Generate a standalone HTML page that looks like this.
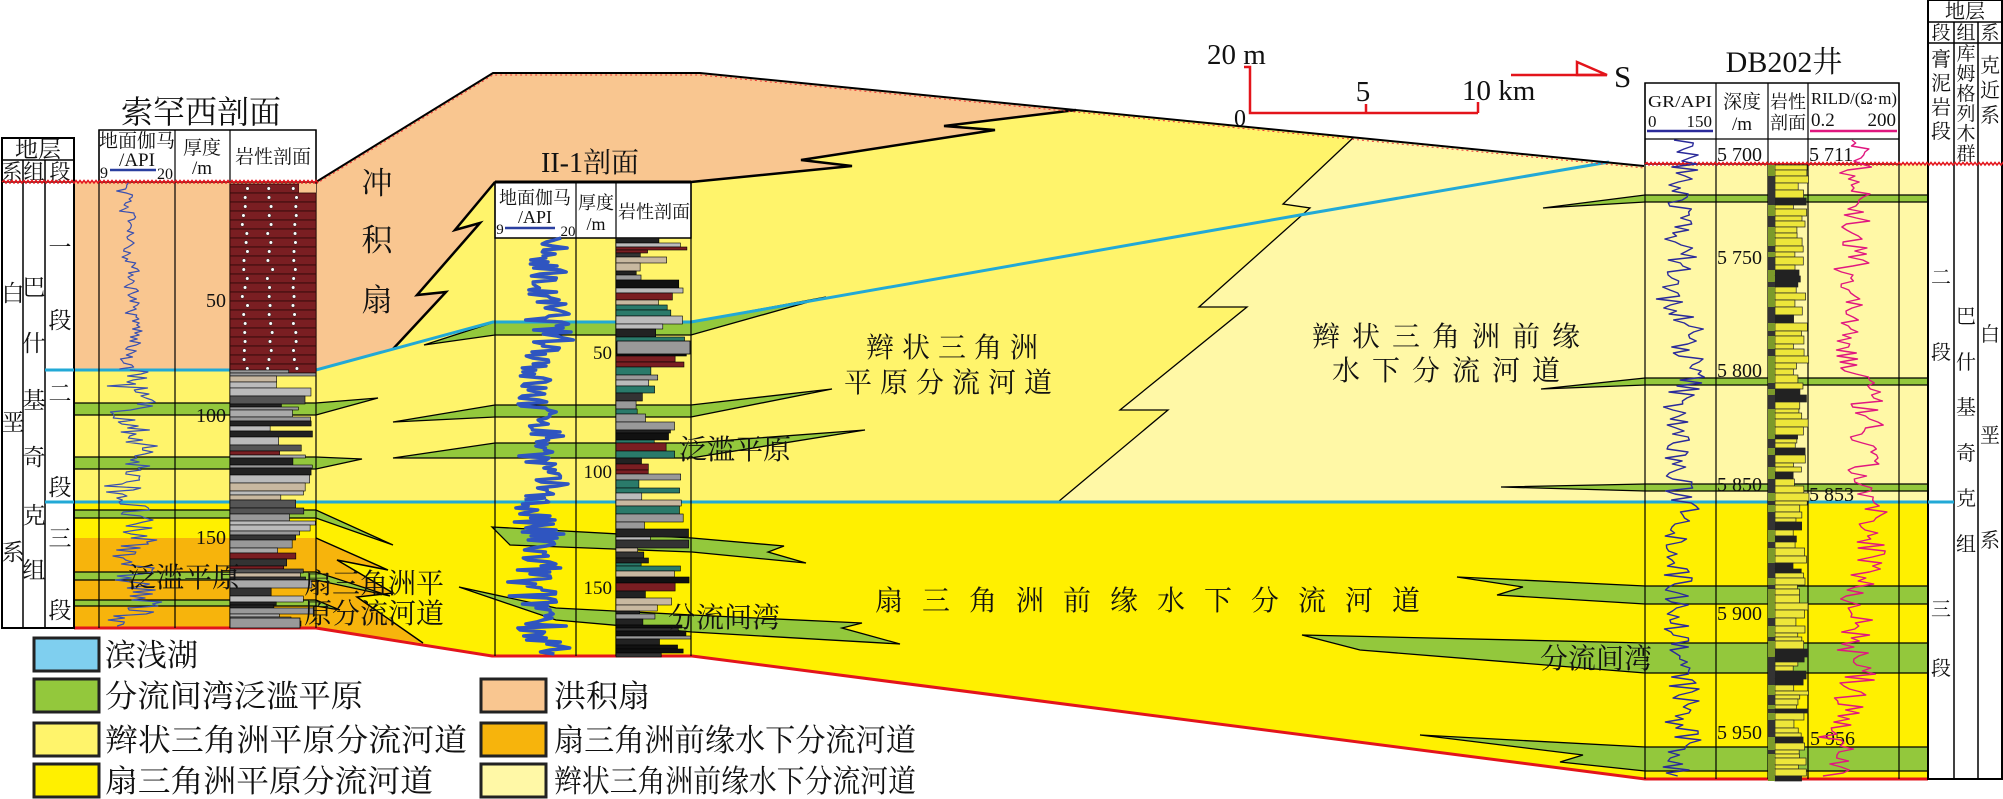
<!DOCTYPE html>
<html><head><meta charset="utf-8"><style>
html,body{margin:0;padding:0;background:#fff;}
svg{display:block;}
text{font-family:"Liberation Serif","Noto Serif CJK SC",serif;fill:#111;}
</style></head><body>
<svg id="s" width="2003" height="799" viewBox="0 0 2003 799" xmlns="http://www.w3.org/2000/svg">
<rect width="2003" height="799" fill="#fff"/>
<polygon points="74,182 316,182 493,73 700,73 1644,166 1928,164 1928,779 1645,779 692,656 492,656 316,628 74,628" fill="#FFF46B"/>
<polygon points="74,182 316,182 493,73 700,73 1076,110 944,126 995,130 801,160 852,166 691,182 495,182 455,230 480,223 417,295 446,292 393,349 316,370 74,370" fill="#F9C690"/>
<polyline points="1076,110 944,126 995,130 801,160 852,166 691,182" fill="none" stroke="#000" stroke-width="2.5"/>
<polyline points="495,182 455,230 480,223 417,295 446,292 393,349" fill="none" stroke="#000" stroke-width="2.5"/>
<polygon points="1058,502 1168,410 1120,410 1247,307 1199,307 1310,208 1283,204 1354,137 1644,166 1928,164 1928,502" fill="#FFF8A6"/>
<polyline points="1058,502 1168,410 1120,410 1247,307 1199,307 1310,208 1283,204 1354,137" fill="none" stroke="#000" stroke-width="1.3"/>
<polygon points="74,502 1928,502 1928,779 1645,779 692,656 492,656 316,628 74,628" fill="#FFF000"/>
<polygon points="74,538 316,538 388,570 337,560 393,593 357,597 423,643 316,628 74,628" fill="#F7B40C"/>
<polyline points="316,538 388,570 337,560 393,593 357,597 423,643" fill="none" stroke="#000" stroke-width="1.5"/>
<g fill="#93C83C" stroke="#000" stroke-width="1.3">
<polygon points="74,403 316,403 378,398 316,415 74,415"/>
<polygon points="74,457 316,457 362,459 316,469 74,469"/>
<polygon points="74,510 316,510 393,545 316,518 74,518"/>
<polygon points="74,572 316,572 390,596 316,580 74,580"/>
<polygon points="74,600 316,600 340,610 316,606 74,606"/>
<polygon points="424,345 495,322 691,322 826,297 691,335 495,335"/>
<polygon points="393,422 495,405 691,405 832,389 691,417 495,417"/>
<polygon points="393,458 495,443 691,443 865,430 691,458 495,458"/>
<polygon points="492,527 692,538 784,546 768,552 806,563 692,552 510,545"/>
<polygon points="459,587 556,608 692,615 862,623 842,628 900,644 692,632 556,620"/>
<polygon points="1543,208 1645,195 1928,195 1928,202 1645,202"/>
<polygon points="1541,389 1645,378 1928,378 1928,385 1645,385"/>
<polygon points="1501,487 1645,484 1928,484 1928,491 1645,491"/>
<polygon points="1457,577 1645,586 1928,586 1928,604 1645,604 1497,595 1523,587"/>
<polygon points="1302,635 1645,643 1928,643 1928,673 1645,673 1360,650"/>
<polygon points="1420,735 1645,747 1928,747 1928,771 1645,771 1560,762 1583,755"/>
</g>
<polyline points="49,370 316,370 493,322 691,322 1300,215 1609,162" fill="none" stroke="#22A9D6" stroke-width="3"/>
<line x1="49" y1="502" x2="1954" y2="502" stroke="#22A9D6" stroke-width="3"/>
<polyline points="316,182 493,73 700,73 1644,166" fill="none" stroke="#000" stroke-width="2"/>
<polyline points="316,184 493,75 700,75 1644,168" fill="none" stroke="#e33" stroke-width="1" stroke-dasharray="2,3"/>
<polyline points="74,628 316,628 492,656 692,656 1645,779 1928,779" fill="none" stroke="#E3141B" stroke-width="3"/>

<rect x="2" y="138" width="72" height="490" fill="#fff" stroke="#000" stroke-width="2"/>
<line x1="2" y1="160" x2="74" y2="160" stroke="#000" stroke-width="1.5"/>
<line x1="2" y1="182" x2="74" y2="182" stroke="#000" stroke-width="1.5"/>
<line x1="23" y1="160" x2="23" y2="628" stroke="#000" stroke-width="1.5"/>
<line x1="45" y1="160" x2="45" y2="628" stroke="#000" stroke-width="1.5"/>
<line x1="45" y1="370" x2="74" y2="370" stroke="#22A9D6" stroke-width="3"/>
<line x1="45" y1="502" x2="74" y2="502" stroke="#22A9D6" stroke-width="3"/>
<g font-size="23" text-anchor="middle">
<text x="38" y="157">地层</text>
<text x="12" y="179" font-size="21">系</text><text x="34" y="179" font-size="21">组</text><text x="60" y="179" font-size="21">段</text>
<text x="13" y="301">白</text><text x="13" y="430">垩</text><text x="13" y="560">系</text>
<text x="34" y="295">巴</text><text x="34" y="351">什</text><text x="34" y="408">基</text><text x="34" y="465">奇</text><text x="34" y="523">克</text><text x="34" y="578">组</text>
<text x="60" y="255">一</text><text x="60" y="328">段</text><text x="60" y="401">二</text><text x="60" y="495">段</text><text x="60" y="546">三</text><text x="60" y="618">段</text>
</g>

<text x="201" y="123" font-size="32" text-anchor="middle">索罕西剖面</text>
<rect x="99" y="130" width="217" height="52" fill="#fff" stroke="#000" stroke-width="1.5"/>
<g stroke="#000" stroke-width="1.2">
<line x1="99" y1="130" x2="99" y2="628"/><line x1="175" y1="130" x2="175" y2="628"/><line x1="230" y1="130" x2="230" y2="628"/><line x1="316" y1="130" x2="316" y2="628"/>
</g>
<g font-size="19" text-anchor="middle">
<text x="137" y="147">地面伽马</text>
<text x="137" y="166">/API</text>
<text x="104" y="178" font-size="16">9</text><text x="165" y="179" font-size="16">20</text>
<text x="202" y="154">厚度</text><text x="202" y="174">/m</text>
<text x="273" y="163">岩性剖面</text>
</g>
<line x1="110" y1="170" x2="156" y2="170" stroke="#2a3fa0" stroke-width="2.5"/>
<g font-size="20" text-anchor="end">
<text x="226" y="307">50</text><text x="226" y="422">100</text><text x="226" y="544">150</text>
</g>

<text x="590" y="172" font-size="28" text-anchor="middle">II-1剖面</text>
<rect x="495" y="182" width="196" height="56" fill="#fff" stroke="#000" stroke-width="1.5"/>
<line x1="495" y1="182" x2="691" y2="182" stroke="#000" stroke-width="3"/>
<g stroke="#000" stroke-width="1.2">
<line x1="495" y1="182" x2="495" y2="656"/><line x1="576" y1="182" x2="576" y2="656"/><line x1="616" y1="182" x2="616" y2="656"/><line x1="691" y1="182" x2="691" y2="656"/>
</g>
<g font-size="18" text-anchor="middle">
<text x="535" y="204">地面伽马</text><text x="535" y="223">/API</text>
<text x="500" y="234" font-size="15">9</text><text x="568" y="236" font-size="15">20</text>
<text x="596" y="209">厚度</text><text x="596" y="230">/m</text>
<text x="654" y="218">岩性剖面</text>
</g>
<line x1="505" y1="228" x2="555" y2="228" stroke="#2a3fa0" stroke-width="2.5"/>
<g font-size="19" text-anchor="end">
<text x="612" y="359">50</text><text x="612" y="478">100</text><text x="612" y="594">150</text>
</g>

<text x="1784" y="72" font-size="30" text-anchor="middle">DB202井</text>
<rect x="1645" y="83" width="254" height="81" fill="#fff" stroke="#000" stroke-width="1.5"/>
<line x1="1645" y1="139" x2="1899" y2="139" stroke="#000" stroke-width="1.2"/>
<g stroke="#000" stroke-width="1.2">
<line x1="1645" y1="83" x2="1645" y2="779"/><line x1="1716" y1="83" x2="1716" y2="779"/><line x1="1768" y1="83" x2="1768" y2="779"/><line x1="1808" y1="83" x2="1808" y2="779"/><line x1="1899" y1="83" x2="1899" y2="779"/>
</g>
<g font-size="17">
<text x="1648" y="107" textLength="64" lengthAdjust="spacingAndGlyphs">GR/API</text>
<text x="1648" y="127">0</text><text x="1712" y="127" text-anchor="end">150</text>
<text x="1742" y="108" text-anchor="middle" font-size="19">深度</text><text x="1742" y="130" text-anchor="middle" font-size="19">/m</text>
<text x="1788" y="108" text-anchor="middle" font-size="18">岩性</text><text x="1788" y="129" text-anchor="middle" font-size="18">剖面</text>
<text x="1811" y="104" textLength="86" lengthAdjust="spacingAndGlyphs">RILD/(Ω·m)</text>
<text x="1811" y="126" font-size="19">0.2</text><text x="1896" y="126" text-anchor="end" font-size="19">200</text>
</g>
<line x1="1647" y1="131" x2="1713" y2="131" stroke="#2a2a9a" stroke-width="2.5"/>
<line x1="1810" y1="131" x2="1897" y2="131" stroke="#e0177f" stroke-width="2.5"/>
<g font-size="20">
<text x="1717" y="161">5 700</text><text x="1809" y="161">5 711</text>
<text x="1717" y="264">5 750</text><text x="1717" y="377">5 800</text><text x="1717" y="491">5 850</text>
<text x="1809" y="501">5 853</text>
<text x="1717" y="620">5 900</text><text x="1717" y="739">5 950</text><text x="1810" y="745">5 956</text>
</g>

<rect x="1928" y="0" width="74" height="779" fill="#fff" stroke="#000" stroke-width="2"/>
<g stroke="#000" stroke-width="1.5">
<line x1="1928" y1="22" x2="2002" y2="22"/><line x1="1928" y1="43" x2="2002" y2="43"/>
<line x1="1954" y1="22" x2="1954" y2="779"/><line x1="1978" y1="22" x2="1978" y2="779"/>
</g>
<line x1="1928" y1="502" x2="1954" y2="502" stroke="#22A9D6" stroke-width="3"/>
<g font-size="20" text-anchor="middle">
<text x="1965" y="18">地层</text>
<text x="1941" y="39" font-size="19">段</text><text x="1966" y="39" font-size="19">组</text><text x="1990" y="39" font-size="19">系</text>
<text x="1941" y="66">膏</text><text x="1941" y="90">泥</text><text x="1941" y="114">岩</text><text x="1941" y="138">段</text>
<text x="1966" y="60" font-size="19">库</text><text x="1966" y="80" font-size="19">姆</text><text x="1966" y="100" font-size="19">格</text><text x="1966" y="120" font-size="19">列</text><text x="1966" y="140" font-size="19">木</text><text x="1966" y="160" font-size="19">群</text>
<text x="1990" y="72">克</text><text x="1990" y="97">近</text><text x="1990" y="122">系</text>
<text x="1941" y="284">二</text><text x="1941" y="359">段</text><text x="1941" y="616">三</text><text x="1941" y="675">段</text>
<text x="1966" y="323">巴</text><text x="1966" y="369">什</text><text x="1966" y="414">基</text><text x="1966" y="460">奇</text><text x="1966" y="505">克</text><text x="1966" y="551">组</text>
<text x="1990" y="341">白</text><text x="1990" y="442">垩</text><text x="1990" y="547">系</text>
</g>

<path id="w1" fill="none" stroke="#e3141b" stroke-width="1.5"/>
<path id="w2" fill="none" stroke="#e3141b" stroke-width="1.5"/>

<g id="litho"></g>
<g id="logs"></g>

<polyline points="1244,67 1250,67 1250,113 1478,113" fill="none" stroke="#E3141B" stroke-width="2.5"/>
<line x1="1366" y1="104" x2="1366" y2="113" stroke="#E3141B" stroke-width="2.5"/>
<line x1="1478" y1="102" x2="1478" y2="113" stroke="#E3141B" stroke-width="2.5"/>
<line x1="1511" y1="75" x2="1607" y2="75" stroke="#E3141B" stroke-width="2.5"/>
<polygon points="1577,62 1607,75 1577,75" fill="none" stroke="#E3141B" stroke-width="2.5"/>
<g font-size="29">
<text x="1207" y="64">20 m</text>
<text x="1234" y="126" font-size="24">0</text>
<text x="1363" y="101" text-anchor="middle">5</text>
<text x="1462" y="100">10 km</text>
<text x="1614" y="87" font-size="31">S</text>
</g>

<g font-size="31" text-anchor="middle">
<text x="377" y="194">冲</text><text x="377" y="251">积</text><text x="377" y="311">扇</text>
</g>
<g font-size="28">
<text x="866" y="357" letter-spacing="8">辫状三角洲</text>
<text x="844" y="392" letter-spacing="8">平原分流河道</text>
<text x="679" y="459">泛滥平原</text>
<text x="1312" y="346" letter-spacing="12">辫状三角洲前缘</text>
<text x="1332" y="380" letter-spacing="12">水下分流河道</text>
<text x="875" y="610" letter-spacing="19">扇三角洲前缘水下分流河道</text>
<text x="128" y="587">泛滥平原</text>
<text x="304" y="593">扇三角洲平</text>
<text x="304" y="623">原分流河道</text>
<text x="668" y="627">分流间湾</text>
<text x="1540" y="668">分流间湾</text>
</g>

<g stroke="#222" stroke-width="3">
<rect x="34" y="638" width="65" height="33" fill="#7FCFEF"/>
<rect x="34" y="679" width="65" height="33" fill="#93C83C"/>
<rect x="34" y="723" width="65" height="33" fill="#FFF46B"/>
<rect x="34" y="764" width="65" height="33" fill="#FFF000"/>
<rect x="481" y="679" width="65" height="33" fill="#F9C690"/>
<rect x="481" y="723" width="65" height="33" fill="#F7B40C"/>
<rect x="481" y="764" width="65" height="33" fill="#FFF8A6"/>
</g>
<g font-size="31">
<text x="105" y="666">滨浅湖</text>
<text x="105" y="707" textLength="258" lengthAdjust="spacingAndGlyphs">分流间湾泛滥平原</text>
<text x="105" y="751" textLength="362" lengthAdjust="spacingAndGlyphs">辫状三角洲平原分流河道</text>
<text x="105" y="792" textLength="328" lengthAdjust="spacingAndGlyphs">扇三角洲平原分流河道</text>
<text x="554" y="707" textLength="96" lengthAdjust="spacingAndGlyphs">洪积扇</text>
<text x="554" y="751" textLength="362" lengthAdjust="spacingAndGlyphs">扇三角洲前缘水下分流河道</text>
<text x="554" y="792" textLength="362" lengthAdjust="spacingAndGlyphs">辫状三角洲前缘水下分流河道</text>
</g>
</svg>
<script>
(function(){
var NS="http://www.w3.org/2000/svg";
var seed=7;function r(){seed=(seed*16807)%2147483647;return (seed-1)/2147483646;}
function el(g,t,a){var e=document.createElementNS(NS,t);for(var k in a)e.setAttribute(k,a[k]);g.appendChild(e);return e;}
var L=document.getElementById('litho'),G=document.getElementById('logs');
function wavy(id,x0,x1,y){var d="M"+x0+","+y;for(var x=x0;x<x1;x+=4){d+=" L"+(x+2)+","+(y-1.5)+" L"+(x+4)+","+(y+1);}document.getElementById(id).setAttribute('d',d);}
wavy('w1',2,316,182);wavy('w2',1645,2002,164);
var y=184;
while(y<368){var h=9;var full=r()>0.25;
el(L,'rect',{x:230,y:y,width:full?86:69,height:h,fill:'#7a1e22',stroke:'#2a0808','stroke-width':0.8});
if(!full)el(L,'rect',{x:299,y:y,width:17,height:h,fill:'#F9C690'});
for(var i=0;i<3;i++){el(L,'circle',{cx:242+i*25+(r()*6),cy:y+4.5,r:1.8,fill:'#fff',stroke:'#000','stroke-width':0.4});}
y+=h;}
var cols=['#222','#999','#555','#c8b8a0','#7a1e22','#aaa','#333','#bbb'];
y=370;while(y<626){var h=3+Math.floor(r()*6);var w=40+r()*46;
el(L,'rect',{x:230,y:y,width:w,height:h,fill:cols[Math.floor(r()*cols.length)],stroke:'#000','stroke-width':0.6});y+=h;}
el(L,'rect',{x:230,y:618,width:70,height:10,fill:'#999',stroke:'#000','stroke-width':0.8});
var cols2=['#222','#999','#333','#c8b8a0','#7a1e22','#2a7a6a','#111','#bbb'];
y=238;while(y<654){var h=3+Math.floor(r()*6);var w=20+r()*55;
el(L,'rect',{x:616,y:y,width:w,height:h,fill:cols2[Math.floor(r()*cols2.length)],stroke:'#000','stroke-width':0.6});y+=h;}
el(L,'rect',{x:617,y:341,width:73,height:13,fill:'#999',stroke:'#000','stroke-width':0.8});
y=165;while(y<777){var h=4+Math.floor(r()*5);var w=18+r()*16;
el(L,'rect',{x:1775,y:y,width:w,height:h,fill:r()>0.15?'#EDE63A':'#222',stroke:'#222','stroke-width':0.7});
el(L,'rect',{x:1768,y:y,width:7,height:h,fill:r()>0.5?'#7c9a2a':'#333'});y+=h;}
function log(c,amp,drift,y0,y1,st,col,w){var pts=[],d=0;for(var yy=y0;yy<=y1;yy+=st){d+=(r()-0.5)*drift;d*=0.93;pts.push((c+d+(r()-0.5)*amp).toFixed(1)+","+yy);}
el(G,'polyline',{points:pts.join(" "),fill:'none',stroke:col,'stroke-width':w,'stroke-linejoin':'round'});}
log(131,14,6,183,370,2,'#3a50b0',1.2);
log(130,40,10,370,627,2,'#3a50b0',1.2);
log(548,38,10,238,500,2,'#2f55c0',3.5);
log(530,50,14,500,655,2,'#2f55c0',3.5);
log(1680,30,10,140,778,3,'#2a2a9a',1.4);
log(1858,34,10,140,778,3,'#e0177f',1.4);
})();
</script>
</body></html>
